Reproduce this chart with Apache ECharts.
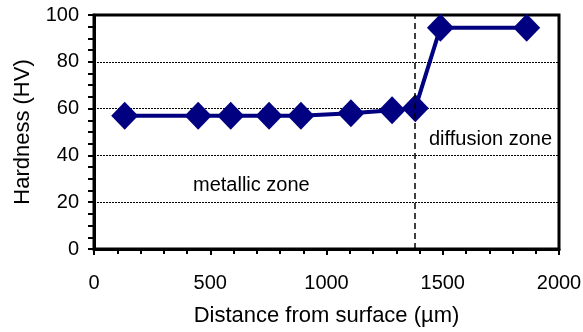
<!DOCTYPE html>
<html>
<head>
<meta charset="utf-8">
<script src="https://cdn.jsdelivr.net/npm/echarts@6/dist/echarts.min.js"></script>
<style>
  html, body { margin: 0; padding: 0; background: #fff; }
  #chart { width: 583px; height: 332px; }
</style>
</head>
<body>
<div id="chart"></div>
<script>
// distance from surface (um) and hardness (HV)
var distance = [132, 448, 588, 753, 890, 1105, 1282, 1382, 1490, 1861];
var hardness = [56.9, 56.9, 56.9, 56.9, 56.9, 58.0, 59.3, 60.2, 94.6, 94.6];
var boundaryX = 1378;
var zoneLabels = ['metallic zone', 'diffusion zone'];

var font = 'Liberation Sans, Arial, sans-serif';

var points = distance.map(function (d, i) { return [d, hardness[i]]; });

var myChart = echarts.init(document.getElementById('chart'));
myChart.setOption({
    backgroundColor: '#fff',
    animation: false,
    grid: {
        left: 94, right: 24, top: 15, bottom: 83,
        outerBoundsMode: 'none',
        show: true, borderColor: '#000', borderWidth: 3
    },
    xAxis: {
        type: 'value',
        min: 0, max: 2000, interval: 500,
        name: 'Distance from surface (µm)',
        nameLocation: 'middle',
        nameGap: 56,
        nameTextStyle: { color: '#000', fontSize: 22, fontFamily: font },
        axisLine: { lineStyle: { color: '#000', width: 3 } },
        axisTick: { inside: false, length: 6, lineStyle: { color: '#000', width: 2 } },
        minorTick: { show: true, splitNumber: 5, length: 5, lineStyle: { color: '#000', width: 2 } },
        axisLabel: {
            color: '#000', fontSize: 20, fontFamily: font, margin: 24,
            formatter: function (v) { return String(v); }
        },
        splitLine: { show: false }
    },
    yAxis: {
        type: 'value',
        min: 0, max: 100, interval: 20,
        name: 'Hardness (HV)',
        nameLocation: 'middle',
        nameGap: 60,
        nameTextStyle: { color: '#000', fontSize: 22, fontFamily: font },
        axisLine: { lineStyle: { color: '#000', width: 3 } },
        axisTick: { length: 6, lineStyle: { color: '#000', width: 2 } },
        minorTick: { show: true, splitNumber: 4, length: 6, lineStyle: { color: '#000', width: 2 } },
        axisLabel: { color: '#000', fontSize: 20, fontFamily: font, margin: 15 },
        splitLine: { show: true, lineStyle: { color: '#000', width: 1, type: [2, 1] } }
    },
    series: [{
        type: 'line',
        data: points,
        symbol: 'diamond',
        symbolSize: [27, 28],
        itemStyle: { color: '#000080' },
        lineStyle: { color: '#000080', width: 4 },
        z: 3,
        markLine: {
            silent: true,
            symbol: 'none',
            label: { show: false },
            lineStyle: { color: '#000', width: 1.5, type: [6, 4] },
            data: [{ xAxis: boundaryX }]
        }
    }],
    graphic: [
        { type: 'text', left: 193, top: 175,
          style: { text: zoneLabels[0], fill: '#000', fontSize: 20, fontFamily: font } },
        { type: 'text', left: 429, top: 129,
          style: { text: zoneLabels[1], fill: '#000', fontSize: 20, fontFamily: font } }
    ]
});
</script>
</body>
</html>
